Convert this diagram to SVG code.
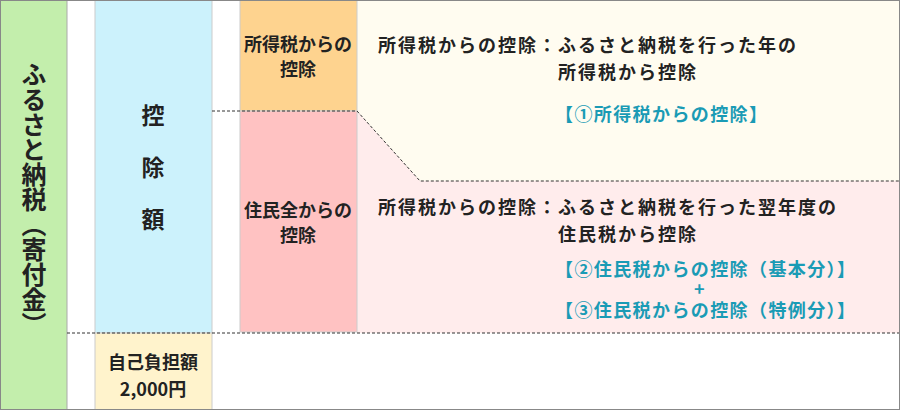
<svg xmlns="http://www.w3.org/2000/svg" width="900" height="410" viewBox="0 0 900 410">
<style>
text{font-family:"Noto Sans CJK JP","Noto Sans",sans-serif;font-weight:bold;fill:#222}
.s{font-size:18px}
.m{font-size:18px;letter-spacing:2px}
.b{fill:#1a9bb5;font-size:18px;letter-spacing:1.4px}
.d{stroke:#333;stroke-width:1;stroke-dasharray:3,2;fill:none}
</style>
<rect width="900" height="410" fill="#fff"/>
<g id="furusato"><rect x="0" y="0" width="67" height="410" fill="#c3eeac" stroke="#aaa"/>
<text x="34" y="62" font-size="25" style="writing-mode:vertical-rl" text-anchor="start">ふるさと納税（寄付金）</text></g>
<g id="kojo"><rect x="95" y="0" width="117" height="333" fill="#ccf2fc" stroke="#ccc"/>
<text x="153" y="124" font-size="23" text-anchor="middle">控</text>
<text x="153" y="176" font-size="23" text-anchor="middle">除</text>
<text x="153" y="228" font-size="23" text-anchor="middle">額</text></g>
<g id="jiko"><rect x="95" y="333" width="117" height="77" fill="#fff3cc" stroke="#ccc"/>
<text x="153" y="369" class="s" text-anchor="middle">自己負担額</text>
<text x="153" y="396" class="s" text-anchor="middle">2,000円</text></g>
<g id="right-top"><rect x="357" y="0" width="543" height="333" fill="#fffcf0"/></g>
<g id="right-bottom"><polygon points="357,111 420,181 900,181 900,333 357,333" fill="#ffecec"/>
<text x="378" y="52" class="m">所得税からの控除：ふるさと納税を行った年の</text>
<text x="558" y="79" class="m">所得税から控除</text>
<text x="555" y="121" class="b">【①所得税からの控除】</text>
<text x="378" y="214" class="m">所得税からの控除：ふるさと納税を行った翌年度の</text>
<text x="558" y="241" class="m">住民税から控除</text>
<text x="555" y="276" class="b">【②住民税からの控除（基本分）】</text>
<text x="700" y="296" class="b" font-size="12" text-anchor="middle">+</text>
<text x="555" y="317" class="b">【③住民税からの控除（特例分）】</text></g>
<g id="shotoku"><rect x="240" y="0" width="117" height="111" fill="#fed38f" stroke="#ccc"/>
<text x="298" y="51" class="s" text-anchor="middle">所得税からの</text>
<text x="298" y="76" class="s" text-anchor="middle">控除</text></g>
<g id="jumin"><rect x="240" y="111" width="117" height="221" fill="#ffc2c2" stroke="#ccc"/>
<text x="298" y="217" class="s" text-anchor="middle">住民全からの</text>
<text x="298" y="242" class="s" text-anchor="middle">控除</text></g>
<g id="connectors">
<polyline class="d" points="212,111 357,111 420,181 900,181"/>
<line class="d" x1="67" y1="333" x2="900" y2="333"/>
</g>
<rect x="0.5" y="0.5" width="899" height="409" fill="none" stroke="#888"/>
</svg>
